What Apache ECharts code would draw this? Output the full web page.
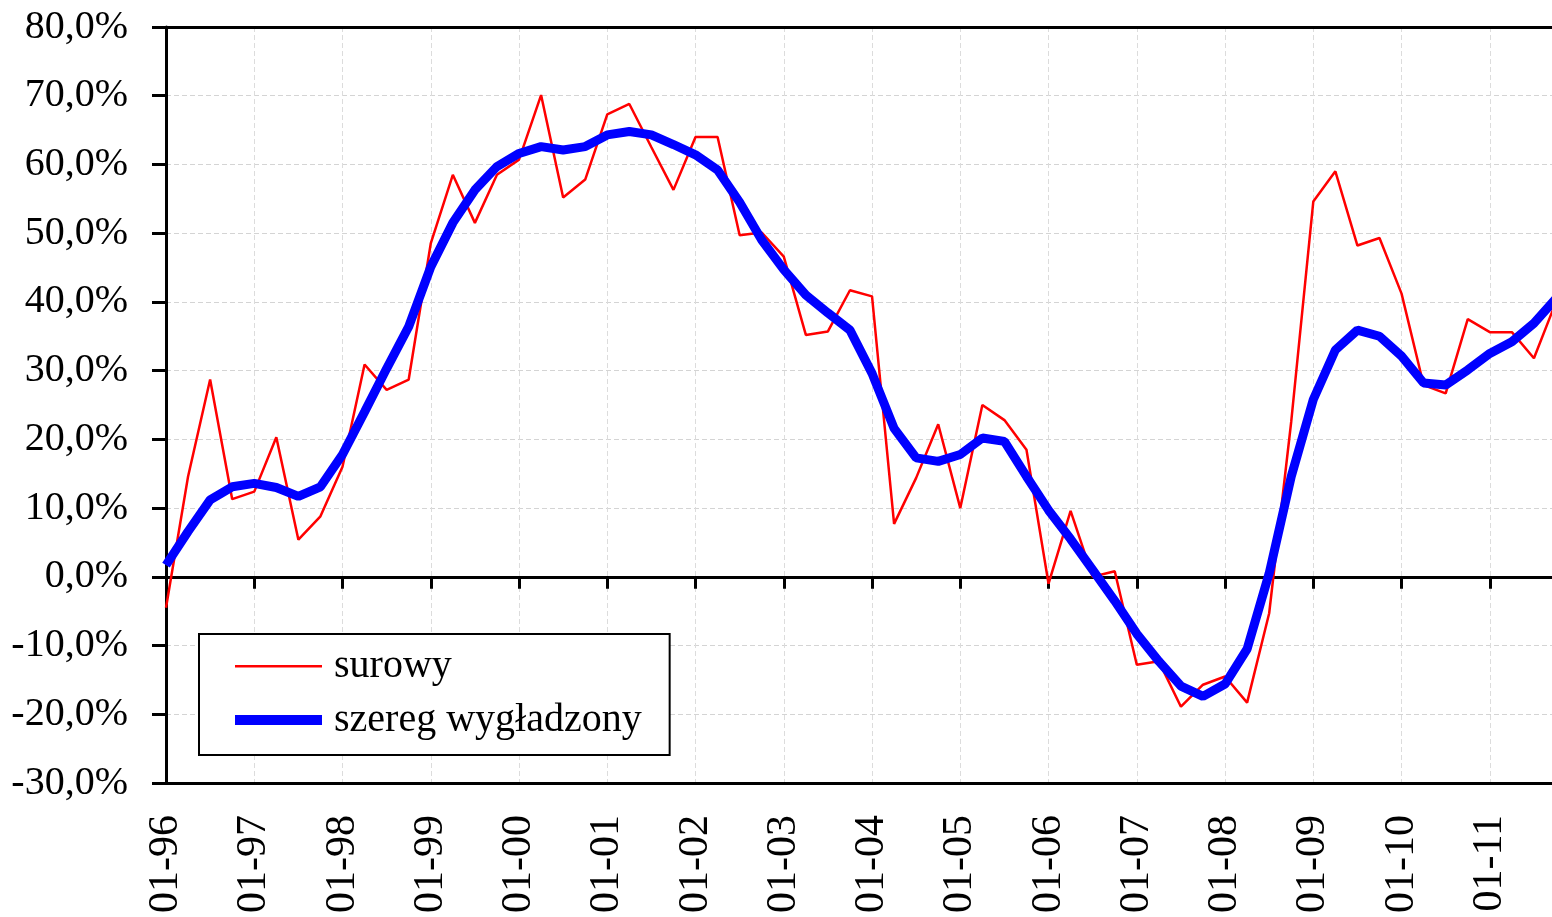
<!DOCTYPE html>
<html>
<head>
<meta charset="utf-8">
<script src="https://cdn.jsdelivr.net/npm/echarts@6/dist/echarts.min.js"></script>
<style>
html, body { margin: 0; padding: 0; overflow: hidden; background: #fff; }
#chart { width: 1560px; height: 917px; }
</style>
</head>
<body>
<div id="chart"></div>
<script>
// Quarterly categories 01-96 ... 10-11
const years = ['96','97','98','99','00','01','02','03','04','05','06','07','08','09','10','11'];
const months = ['01','04','07','10'];
const categories = [];
years.forEach(y => months.forEach(m => categories.push(m + '-' + y)));

const yTicks = { min: -30, max: 80, interval: 10 };

const surowy = [-4.5, 14.6, 28.7, 11.3, 12.4, 20.3, 5.4, 8.8, 16.0, 30.9,
  27.2, 28.7, 48.5, 58.5, 51.5, 58.5, 60.7, 70.1, 55.2, 57.8,
  67.3, 68.8, 62.5, 56.3, 64.0, 64.0, 49.7, 50.1, 46.6, 35.2,
  35.7, 41.7, 40.8, 7.7, 14.4, 22.2, 10.0, 25.0, 22.8, 18.5,
  -1.0, 9.6, 0.0, 0.8, -12.8, -12.3, -18.9, -15.7, -14.5, -18.3,
  -5.3, 22.6, 54.6, 59.0, 48.2, 49.3, 41.2, 27.9, 26.7, 37.5,
  35.6, 35.6, 31.8, 40.0];

const wygladzony = [1.7, 6.6, 11.2, 13.1, 13.6, 13.0, 11.7, 13.1, 17.8, 24.0,
  30.3, 36.4, 45.1, 51.5, 56.3, 59.7, 61.6, 62.6, 62.1, 62.6,
  64.3, 64.8, 64.3, 62.9, 61.4, 59.2, 54.5, 49.0, 44.7, 41.0,
  38.4, 35.9, 29.6, 21.6, 17.3, 16.8, 17.8, 20.2, 19.7, 14.6,
  9.7, 5.5, 1.0, -3.5, -8.3, -12.3, -15.9, -17.4, -15.6, -10.5,
  0.5, 14.6, 25.8, 33.0, 35.9, 35.0, 32.1, 28.2, 27.9, 30.1,
  32.5, 34.2, 36.9, 40.5];

const FONT = 'Liberation Serif';
const chart = echarts.init(document.getElementById('chart'), null, { renderer: 'canvas' });

chart.setOption({
  animation: false,
  backgroundColor: '#fff',
  textStyle: { fontFamily: FONT },
  grid: { left: 166, top: 27, right: 4, bottom: 134, containLabel: false },
  legend: {
    orient: 'vertical',
    left: 199, top: 634,
    padding: [12, 28, 15, 36],
    itemWidth: 87, itemHeight: 10, itemGap: 14,
    backgroundColor: '#fff',
    borderColor: '#000', borderWidth: 2,
    textStyle: { fontFamily: FONT, fontSize: 40, color: '#000', lineHeight: 40, padding: [0, 0, 0, 7] },
    selectedMode: false,
    data: [
      { name: 'surowy', icon: 'path://M0,0M0,10M0,4H87V6.5H0Z' },
      { name: 'szereg wygładzony', icon: 'rect' }
    ]
  },
  xAxis: [
    {
      type: 'category', data: categories, boundaryGap: false, position: 'bottom',
      axisLine: { onZero: false, lineStyle: { color: '#000', width: 3 } },
      axisTick: { show: false },
      axisLabel: { interval: 3, rotate: 90, margin: 32, fontFamily: FONT, fontSize: 42, color: '#000' },
      splitLine: { show: true, interval: 3, lineStyle: { color: '#dcdcdc', width: 1, type: [5, 3] } }
    },
    {
      type: 'category', data: categories, boundaryGap: false, position: 'top',
      axisLine: { onZero: false, lineStyle: { color: '#000', width: 3 } },
      axisTick: { show: false }, axisLabel: { show: false }, splitLine: { show: false }
    },
    {
      type: 'category', data: categories, boundaryGap: false, position: 'bottom',
      axisLine: { onZero: true, onZeroAxisIndex: 0, lineStyle: { color: '#000', width: 3 } },
      axisTick: { show: true, interval: 3, inside: false, length: 12, lineStyle: { color: '#000', width: 3 } },
      axisLabel: { show: false }, splitLine: { show: false }
    }
  ],
  yAxis: {
    type: 'value', min: yTicks.min, max: yTicks.max, interval: yTicks.interval,
    axisLine: { show: true, onZero: false, lineStyle: { color: '#000', width: 3 } },
    axisTick: { show: true, inside: false, length: 14, lineStyle: { color: '#000', width: 3 } },
    axisLabel: {
      margin: 38, fontFamily: FONT, fontSize: 40, color: '#000',
      formatter: v => v.toFixed(1).replace('.', ',') + '%'
    },
    splitLine: { show: true, lineStyle: { color: '#d4d4d4', width: 1, type: [5, 3] } }
  },
  series: [
    {
      name: 'surowy', type: 'line', data: surowy, xAxisIndex: 0, yAxisIndex: 0,
      showSymbol: false, symbol: 'none', color: '#ff0000',
      lineStyle: { color: '#ff0000', width: 2.5 }, z: 2
    },
    {
      name: 'szereg wygładzony', type: 'line', data: wygladzony, xAxisIndex: 0, yAxisIndex: 0,
      showSymbol: false, symbol: 'none', color: '#0000ff',
      lineStyle: { color: '#0000ff', width: 9 }, z: 3
    }
  ]
});
</script>
</body>
</html>
